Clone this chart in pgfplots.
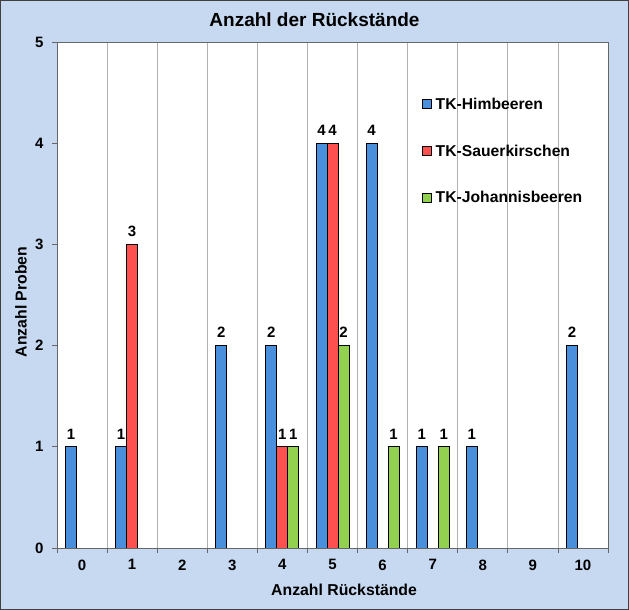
\documentclass[border=0pt]{standalone}
\usepackage{pgfplots}
\pgfplotsset{compat=1.18}
\usepackage{fontspec}
\setmainfont{Liberation Sans}
\definecolor{bgblue}{HTML}{C6D9F1}
\definecolor{hblue}{HTML}{4A8FDC}
\definecolor{sred}{HTML}{FF5050}
\definecolor{jgreen}{HTML}{92D050}
\definecolor{gridgray}{HTML}{B0B0B0}
\begin{document}
\begin{tikzpicture}
\useasboundingbox (0pt,0pt) rectangle (629pt,610pt);
\draw[fill=bgblue, draw=black!75, line width=1.2pt] (0.6pt,0.6pt) rectangle (628.4pt,609.4pt);
\node[font=\bfseries\fontsize{19}{21}\selectfont] at (314.5pt,590pt) {Anzahl der Rückstände};
\begin{axis}[
  at={(57pt,62pt)}, anchor=south west,
  width=551pt, height=506pt, scale only axis,
  xmin=-0.5, xmax=10.5, ymin=0, ymax=5,
  axis background/.style={fill=white},
  axis line style={draw=gray!80!black, line width=0.8pt},
  ybar=0pt, bar width=11pt,
  xtick={0,...,10}, major x tick style={draw=none},
  minor xtick={-0.5,0.5,...,10.5},
  minor x tick style={draw=gray!80!black, line width=0.8pt},
  minor tick length=5pt,
  xminorgrids, minor grid style={draw=gridgray, line width=0.8pt},
  ytick={0,...,5},
  ytick style={draw=gray!80!black, line width=0.8pt},
  major tick length=5pt,
  tick align=outside,
  xtick pos=bottom, ytick pos=left,
  /pgf/number format/assume math mode=true,
  tick label style={font=\bfseries\fontsize{15}{17}\selectfont},
  xticklabel style={yshift=-3pt},
  yticklabel style={xshift=-5pt},
  xlabel={Anzahl Rückstände},
  ylabel={Anzahl Proben},
  label style={font=\bfseries\fontsize{15.8}{18}\selectfont},
  xlabel style={at={(axis description cs:0.521,0)}, anchor=center, yshift=-42pt},
  ylabel style={at={(axis description cs:-0.0653,0.486)}, anchor=center},
  nodes near coords,
  every node near coord/.append style={font=\bfseries\fontsize{15}{17}\selectfont, yshift=4pt},
  legend style={draw=none, fill=none, at={(axis cs:6.78,4.47)}, anchor=north west,
    font=\bfseries\fontsize{15.7}{18}\selectfont, row sep=30pt, inner sep=0pt},
  legend cell align=left,
  legend image code/.code={\draw[#1, draw=black, line width=0.8pt] (0pt,-4.5pt) rectangle (9pt,4.5pt); \path (11pt,0pt);},
]
\addplot[fill=hblue, draw=black, line width=0.9pt] coordinates {(0,1) (1,1) (3,2) (4,2) (5,4) (6,4) (7,1) (8,1) (10,2)};
\addlegendentry{TK-Himbeeren}
\addplot[fill=sred, draw=black, line width=0.9pt] coordinates {(1,3) (4,1) (5,4)};
\addlegendentry{TK-Sauerkirschen}
\addplot[fill=jgreen, draw=black, line width=0.9pt] coordinates {(4,1) (5,2) (6,1) (7,1)};
\addlegendentry{TK-Johannisbeeren}
\end{axis}
\end{tikzpicture}
\end{document}
